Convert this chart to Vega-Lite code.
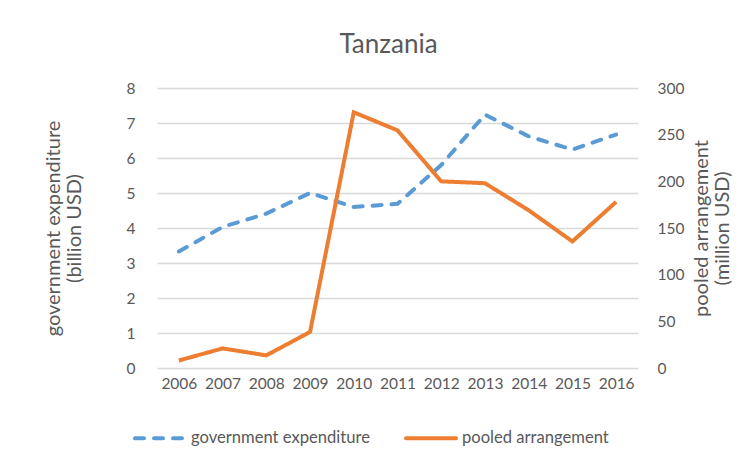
{
  "$schema": "https://vega.github.io/schema/vega-lite/v6.json",
  "width": 481,
  "height": 280,
  "autosize": {"type": "none"},
  "padding": {"left": 157, "top": 88, "right": 115, "bottom": 91},
  "background": "white",
  "title": {"text": "Tanzania", "fontSize": 26, "font": "Lato", "fontWeight": "normal", "color": "#595959", "offset": 23, "dx": -9},
  "config": {"view": {"stroke": null}, "font": "Lato"},
  "data": {"values": [
    {"year": "2006", "series": "government expenditure", "value": 3.33},
    {"year": "2007", "series": "government expenditure", "value": 4.03},
    {"year": "2008", "series": "government expenditure", "value": 4.41},
    {"year": "2009", "series": "government expenditure", "value": 5.0},
    {"year": "2010", "series": "government expenditure", "value": 4.6},
    {"year": "2011", "series": "government expenditure", "value": 4.69},
    {"year": "2012", "series": "government expenditure", "value": 5.8},
    {"year": "2013", "series": "government expenditure", "value": 7.24},
    {"year": "2014", "series": "government expenditure", "value": 6.62},
    {"year": "2015", "series": "government expenditure", "value": 6.24},
    {"year": "2016", "series": "government expenditure", "value": 6.67},
    {"year": "2006", "series": "pooled arrangement", "value": 8},
    {"year": "2007", "series": "pooled arrangement", "value": 21},
    {"year": "2008", "series": "pooled arrangement", "value": 13.5},
    {"year": "2009", "series": "pooled arrangement", "value": 38.6},
    {"year": "2010", "series": "pooled arrangement", "value": 274},
    {"year": "2011", "series": "pooled arrangement", "value": 254.6},
    {"year": "2012", "series": "pooled arrangement", "value": 200},
    {"year": "2013", "series": "pooled arrangement", "value": 198},
    {"year": "2014", "series": "pooled arrangement", "value": 169},
    {"year": "2015", "series": "pooled arrangement", "value": 135.6},
    {"year": "2016", "series": "pooled arrangement", "value": 178}
  ]},
  "encoding": {
    "x": {"field": "year", "type": "ordinal", "scale": {"type": "point", "padding": 0.5},
      "axis": {"title": null, "domain": false, "ticks": false, "grid": false, "labelAngle": 0, "labelPadding": 8, "labelFontSize": 15.5, "labelColor": "#595959"}},
    "color": {"field": "series", "type": "nominal",
      "scale": {"domain": ["government expenditure", "pooled arrangement"], "range": ["#5B9BD5", "#ED7D31"]},
      "legend": {"title": null, "orient": "none", "legendX": -24, "legendY": 323, "direction": "horizontal", "symbolType": "stroke", "symbolSize": 2500, "symbolStrokeWidth": 4, "labelFontSize": 16.6, "labelLimit": 400, "labelColor": "#595959", "columnPadding": 28,
        "encode": {"symbols": {"update": {"strokeCap": {"value": "round"}}}}}},
    "strokeDash": {"field": "series", "type": "nominal",
      "scale": {"domain": ["government expenditure", "pooled arrangement"], "range": [[9, 10], [1, 0]]},
      "legend": {"title": null, "orient": "none", "legendX": -24, "legendY": 323, "direction": "horizontal", "symbolType": "stroke", "symbolSize": 2500, "symbolStrokeWidth": 4, "labelFontSize": 16.6, "labelLimit": 400, "labelColor": "#595959", "columnPadding": 28,
        "encode": {"symbols": {"update": {"strokeCap": {"value": "round"}}}}}}
  },
  "layer": [
    {
      "transform": [{"filter": "datum.series === 'government expenditure'"}],
      "mark": {"type": "line", "strokeWidth": 4, "strokeCap": "round"},
      "encoding": {
        "y": {"field": "value", "type": "quantitative", "scale": {"domain": [0, 8]},
          "axis": {"values": [0, 1, 2, 3, 4, 5, 6, 7, 8], "grid": true, "gridColor": "#D9D9D9", "gridWidth": 1.5, "domain": false, "ticks": false, "labelPadding": 22, "labelFontSize": 15.5, "labelColor": "#595959",
            "title": ["government expenditure", "(billion USD)"], "titleFontSize": 20, "titleLineHeight": 21, "titleFontWeight": "normal", "titleColor": "#595959", "titlePadding": 42}}
      }
    },
    {
      "transform": [{"filter": "datum.series === 'pooled arrangement'"}],
      "mark": {"type": "line", "strokeWidth": 4},
      "encoding": {
        "y": {"field": "value", "type": "quantitative", "scale": {"domain": [0, 300]},
          "axis": {"orient": "right", "values": [0, 50, 100, 150, 200, 250, 300], "grid": false, "domain": false, "ticks": false, "labelPadding": 19, "labelFontSize": 15.5, "labelColor": "#595959",
            "title": ["pooled arrangement", "(million USD)"], "titleAngle": -90, "titleFontSize": 20, "titleLineHeight": 21, "titleFontWeight": "normal", "titleColor": "#595959", "titlePadding": 7}}
      }
    }
  ],
  "resolve": {"scale": {"y": "independent"}}
}
